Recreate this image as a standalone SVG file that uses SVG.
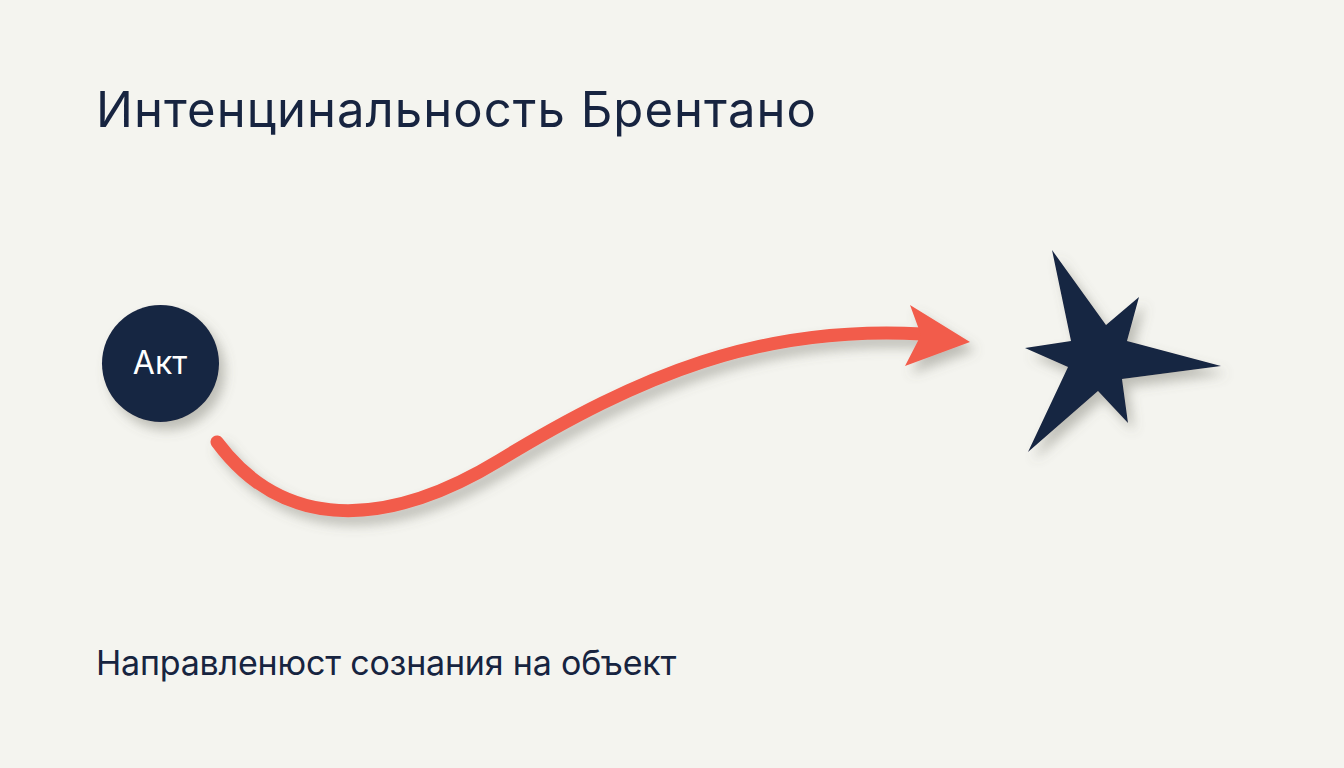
<svg xmlns="http://www.w3.org/2000/svg" width="1344" height="768" viewBox="0 0 1344 768">
<style>
.title{font-family:Inter,"Noto Sans","Liberation Sans",sans-serif;font-size:49px;letter-spacing:1.05px;fill:#172440}
.sub{font-family:Inter,"Noto Sans","Liberation Sans",sans-serif;font-size:34px;letter-spacing:-0.2px;fill:#172440}
.lbl{font-family:Inter,"Noto Sans","Liberation Sans",sans-serif;font-size:32px;fill:#ffffff}
.node{fill:#172543}
.conn{fill:none;stroke:#f25c4b;stroke-width:13;stroke-linecap:round}
</style>
<defs>
<filter id="sh" x="-30%" y="-30%" width="160%" height="160%">
<feDropShadow dx="6" dy="8" stdDeviation="6" flood-color="#6b6b60" flood-opacity="0.4"/>
</filter>
</defs>
<rect width="1344" height="768" fill="#f4f4ef"/>
<text class="title" x="96" y="127">Интенцинальность Брентано</text>
<g id="connectors" filter="url(#sh)">
<path class="conn" d="M217,442 C290,540 400,521 500,460 C640,375 760,325 922,334"/>
<polygon fill="#f25c4b" points="910,305 970,342 905,366 921,335"/>
</g>
<g id="node-act">
<circle class="node" cx="160.5" cy="363.5" r="58.5" filter="url(#sh)"/>
<text class="lbl" x="160" y="374" text-anchor="middle">Акт</text>
</g>
<g id="node-object">
<polygon class="node" filter="url(#sh)" points="1052,250 1071,341 1025,348 1068,367 1028,452 1098,391 1128,423 1122,379 1221,366 1127,341 1139,297 1106,325"/>
</g>
<text class="sub" x="96" y="675">Направленюст сознания на объект</text>
</svg>
